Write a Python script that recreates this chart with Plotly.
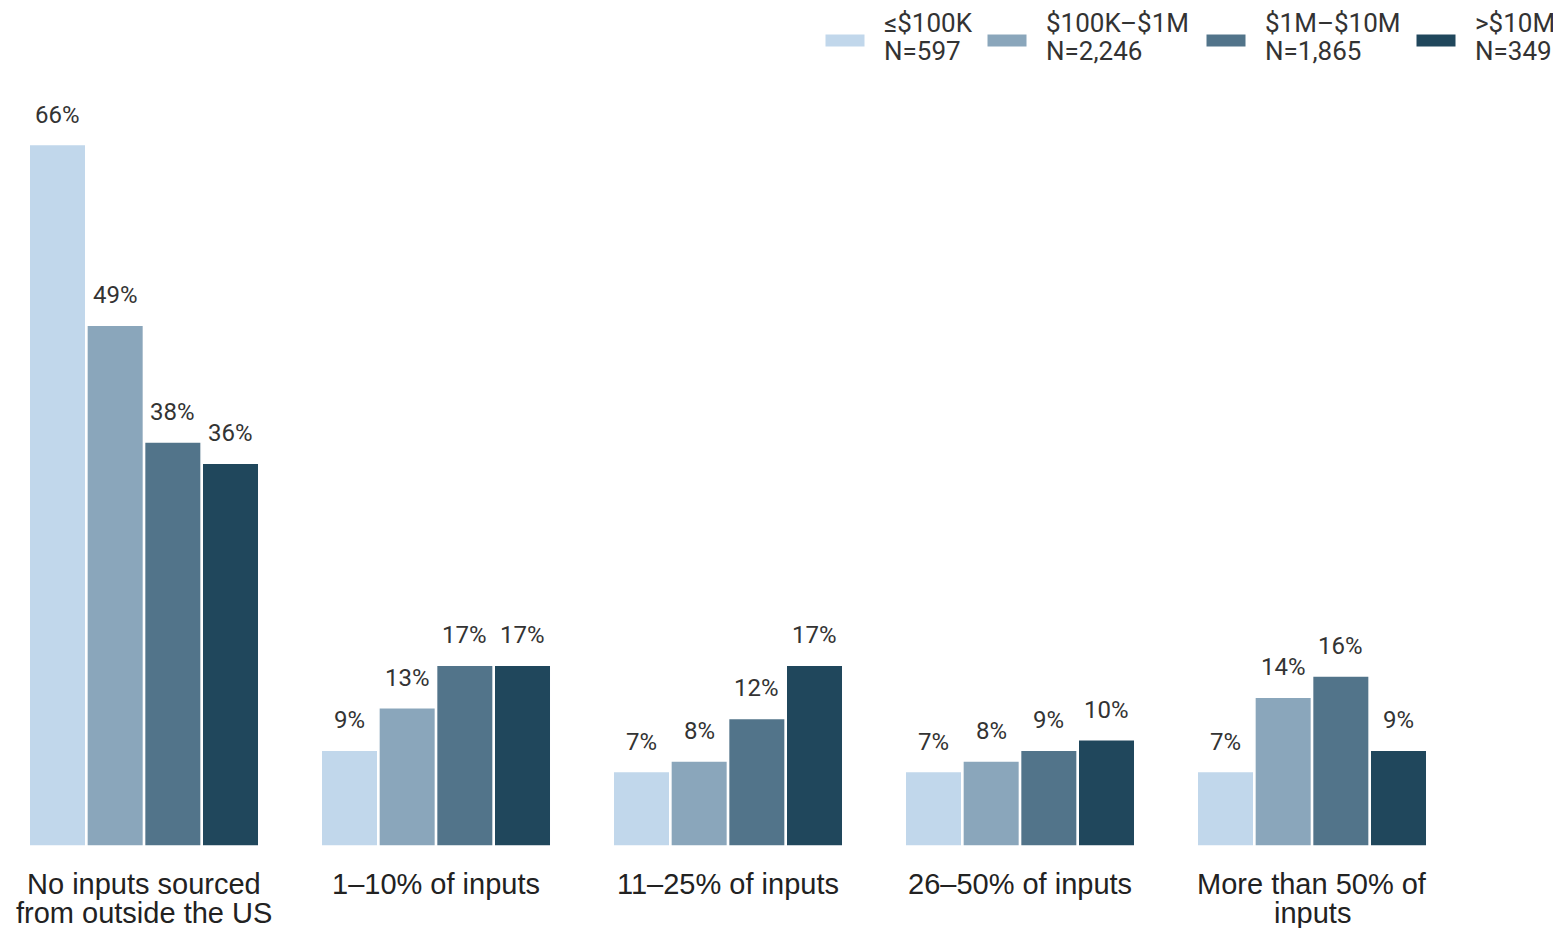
import plotly.graph_objects as go

categories = ["No inputs sourced<br>from outside the US", "1\u201310% of inputs",
              "11\u201325% of inputs", "26\u201350% of inputs", "More than 50% of<br>inputs"]
series_names = ["\u2264$100K<br>N=597", "$100K\u2013$1M<br>N=2,246",
                "$1M\u2013$10M<br>N=1,865", ">$10M<br>N=349"]
under_100k = [66, 9, 7, 7, 7]
k100_to_1m = [49, 13, 8, 8, 14]
m1_to_10m = [38, 17, 12, 9, 16]
over_10m = [36, 17, 17, 10, 9]
colors = ["#c1d7eb", "#8aa6bb", "#52748a", "#20475c"]

all_values = [under_100k, k100_to_1m, m1_to_10m, over_10m]
bargap = 0.21
n = len(all_values)

# figure geometry (pixels)
W, H = 1553, 920
ML, MR, MT, MB = 0, 103, 94, 82
PW, PH = W - ML - MR, H - MT - MB


def px_x(fx):
    return (fx - ML) / PW


def px_y(fy):
    return (H - MB - fy) / PH


fig = go.Figure()
for name, vals, col in zip(series_names, all_values, colors):
    fig.add_trace(go.Bar(
        x=list(range(len(categories))), y=vals, name=name, showlegend=False,
        marker=dict(color=col, line=dict(color="white", width=1.5)),
    ))

# value labels above bars
slot = (1 - bargap) / n
for j, vals in enumerate(all_values):
    for i, v in enumerate(vals):
        fig.add_annotation(
            x=i + (j - (n - 1) / 2) * slot, y=v, text=f"{v}%",
            showarrow=False, yanchor="bottom", yshift=14,
            font=dict(family="Roboto", size=24, color="#333333"),
        )

# category labels, one annotation per line for tighter spacing
for i, cat in enumerate(categories):
    for k, line in enumerate(cat.split("<br>")):
        fig.add_annotation(
            x=i, y=0, yref="paper", text=line, showarrow=False,
            yanchor="middle", yshift=-38 - 29 * k,
            font=dict(family="Liberation Sans", size=29, color="#222222"),
        )

# legend drawn by hand (wide swatches)
swatch_x = [817, 979, 1198, 1408]
for name, col, sx in zip(series_names, colors, swatch_x):
    fig.add_shape(
        type="rect", xref="paper", yref="paper",
        x0=px_x(sx), x1=px_x(sx + 40), y0=px_y(39), y1=px_y(26),
        fillcolor=col, line=dict(color="white", width=1),
    )
    for k, line in enumerate(name.split("<br>")):
        fig.add_annotation(
            x=px_x(sx + 57), y=px_y(15 + 28 * k), xref="paper", yref="paper",
            text=line, showarrow=False, xanchor="left", yanchor="middle",
            font=dict(family="Roboto", size=26, color="#333333"),
        )

x_left = -0.5 + (0.5 * 292 - 136) / 292
fig.update_layout(
    barmode="group", bargap=bargap, bargroupgap=0.02,
    width=W, height=H,
    margin=dict(l=ML, r=MR, t=MT, b=MB, autoexpand=False),
    plot_bgcolor="white", paper_bgcolor="white",
    showlegend=False,
)
fig.update_xaxes(
    range=[x_left, x_left + PW / 292], showticklabels=False,
    showgrid=False, zeroline=False, showline=False, ticks="",
)
fig.update_yaxes(range=[0, 70], visible=False)

fig.write_html("out.html")
